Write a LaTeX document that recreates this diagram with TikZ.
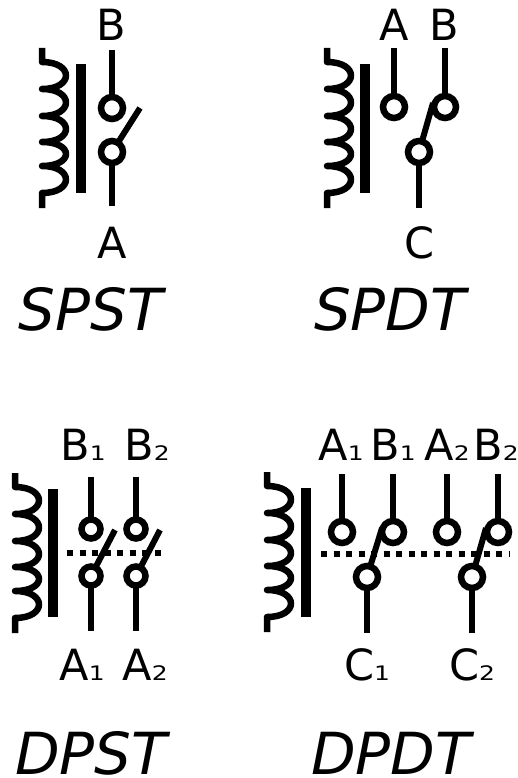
\documentclass[tikz,border=0pt]{standalone}
\usepackage{fontspec}
\setmainfont{DejaVu Sans}
\newfontfamily\subfont[FakeStretch=1.25]{DejaVu Sans}
\newcommand{\subnum}[1]{{\subfont\fontsize{20}{20}\selectfont #1}}
% coil and iron bar, top of the coil at (#1,#2)
\newcommand{\relaycoil}[2]{
	\draw[coil] (#1,#2)--++(0,14)
		.. controls +(32,0) and +(32,0) .. ++(0,27)
		.. controls +(32,0) and +(32,0) .. ++(0,27)
		.. controls +(32,0) and +(32,0) .. ++(0,26)
		.. controls +(32,0) and +(32,0) .. ++(0,24)
		.. controls +(32,0) and +(32,0) .. ++(0,27)
		--++(0,15);
}
\tikzset{
	coil/.style={line width=6.5pt,line join=round},
	wire/.style={line width=6pt},
	bar/.style={line width=10pt},
	linkage/.style={line width=6.5pt,dash pattern=on 6.3pt off 6.2pt},
	term/.style={circle,draw,fill=white,line width=6.5pt,inner sep=0pt,outer sep=0pt,minimum size=22pt},
	smallterm/.style={term,minimum size=19pt},
	lbl/.style={inner sep=0pt,anchor=base,font=\fontsize{43}{43}\selectfont},
	ttl/.style={inner sep=0pt,anchor=base,font=\fontsize{58}{58}\selectfont\itshape}
}
\begin{document}
\begin{tikzpicture}[x=1pt,y=-1pt]
	\useasboundingbox (0,0) rectangle (518,778);

	% SPST
	\relaycoil{42}{48}
	\coordinate (stBarT) at (81,64);
	\coordinate (stBarB) at (81,193);
	\draw[bar] (stBarT)--(stBarB);
	\coordinate (stTop) at (112,50);
	\coordinate (stBot) at (112,206);
	\coordinate (stArm) at (140,108);
	\node[term] (stB) at (112,108) {};
	\node[term] (stA) at (112,152) {};
	\draw[wire] (stTop)--(stB);
	\draw[wire] (stA)--(stBot);
	\draw[wire] (stA)--(stArm);
	\node[lbl] (stLB) at (111,41) {B};
	\node[lbl] (stLA) at (112,258) {A};
	\node[ttl] (stT) at (91,330) {SPST};

	% SPDT
	\relaycoil{327}{48}
	\coordinate (sdBarT) at (365,64);
	\coordinate (sdBarB) at (365,193);
	\draw[bar] (sdBarT)--(sdBarB);
	\coordinate (sdTopA) at (394,48);
	\coordinate (sdTopB) at (445,48);
	\coordinate (sdBot) at (419,208);
	\coordinate (sdArm) at (433,103);
	\node[term] (sdA) at (394,107) {};
	\node[term] (sdC) at (419,152) {};
	\draw[wire] (sdC)--(sdArm);
	\node[term] (sdB) at (445,107) {};
	\draw[wire] (sdTopA)--(sdA);
	\draw[wire] (sdTopB)--(sdB);
	\draw[wire] (sdC)--(sdBot);
	\node[lbl] (sdLA) at (394,41) {A};
	\node[lbl] (sdLB) at (444,41) {B};
	\node[lbl] (sdLC) at (420,258) {C};
	\node[ttl] (sdT) at (390,330) {SPDT};

	% DPST
	\relaycoil{15}{473}
	\coordinate (dsBarT) at (53,489);
	\coordinate (dsBarB) at (53,617);
	\draw[bar] (dsBarT)--(dsBarB);
	\coordinate (dsLinkL) at (67,553);
	\coordinate (dsLinkR) at (164,553);
	\draw[linkage] (dsLinkL)--(dsLinkR);
	\foreach \i/\x/\r in {1/91/115,2/136/160}{
		\coordinate (dsTop\i) at (\x,477);
		\coordinate (dsBot\i) at (\x,631);
		\coordinate (dsArm\i) at (\r,530);
		\node[smallterm] (dsB\i) at (\x,529) {};
		\node[smallterm] (dsA\i) at (\x,576) {};
		\draw[wire] (dsTop\i)--(dsB\i);
		\draw[wire] (dsA\i)--(dsBot\i);
		\draw[wire] (dsA\i)--(dsArm\i);
	}
	\node[lbl] (dsLB1) at (83,460) {B\subnum{1}};
	\node[lbl] (dsLB2) at (147,460) {B\subnum{2}};
	\node[lbl] (dsLA1) at (82,680) {A\subnum{1}};
	\node[lbl] (dsLA2) at (145,680) {A\subnum{2}};
	\node[ttl] (dsT) at (91,774) {DPST};

	% DPDT
	\relaycoil{267}{472}
	\coordinate (ddBarT) at (306,488);
	\coordinate (ddBarB) at (306,617);
	\draw[bar] (ddBarT)--(ddBarB);
	\coordinate (ddLinkL) at (321,554);
	\coordinate (ddLinkR) at (510,554);
	\draw[linkage] (ddLinkL)--(ddLinkR);
	\foreach \i/\a/\c/\b/\r in {1/342/367/393/382,2/447/472/498/486}{
		\coordinate (ddTopA\i) at (\a,474);
		\coordinate (ddTopB\i) at (\b,474);
		\coordinate (ddBot\i) at (\c,633);
		\coordinate (ddArm\i) at (\r,528);
		\node[term] (ddA\i) at (\a,532) {};
		\node[term] (ddC\i) at (\c,577) {};
		\draw[wire] (ddC\i)--(ddArm\i);
		\node[term] (ddB\i) at (\b,532) {};
		\draw[wire] (ddTopA\i)--(ddA\i);
		\draw[wire] (ddTopB\i)--(ddB\i);
		\draw[wire] (ddC\i)--(ddBot\i);
	}
	\node[lbl] (ddLA1) at (341,460) {A\subnum{1}};
	\node[lbl] (ddLB1) at (393,460) {B\subnum{1}};
	\node[lbl] (ddLA2) at (447,460) {A\subnum{2}};
	\node[lbl] (ddLB2) at (496,460) {B\subnum{2}};
	\node[lbl] (ddLC1) at (367,680) {C\subnum{1}};
	\node[lbl] (ddLC2) at (472,680) {C\subnum{2}};
	\node[ttl] (ddT) at (391,774) {DPDT};
\end{tikzpicture}
\end{document}
